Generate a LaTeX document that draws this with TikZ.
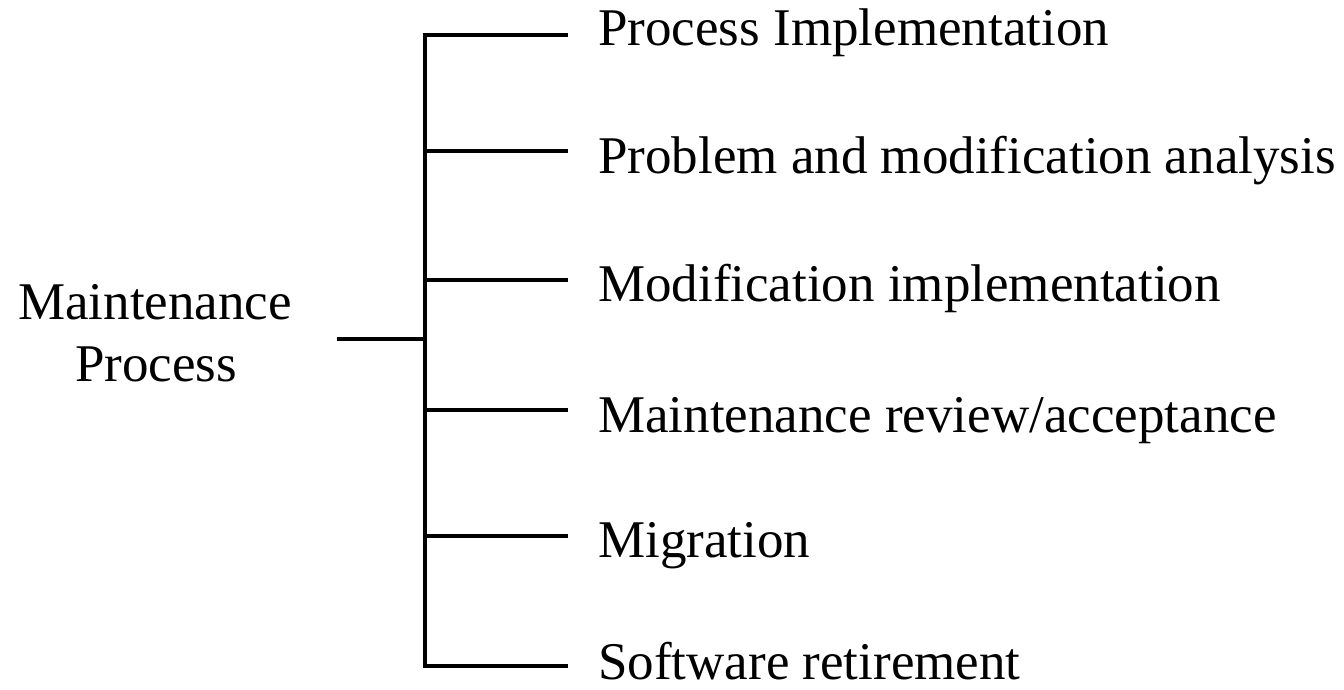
\documentclass[tikz,border=0pt]{standalone}
\usepackage{fontspec}
\setmainfont{Liberation Serif}
\begin{document}
\begin{tikzpicture}[x=1pt, y=-1pt,
  bar/.style={line width=3.8pt, line cap=butt, line join=miter},
  lbl/.style={anchor=base west, inner sep=0pt, font=\fontsize{53}{61}\selectfont},
  rootlbl/.style={anchor=base, inner sep=0pt, font=\fontsize{53}{61}\selectfont}]
\useasboundingbox (0,0) rectangle (1344,690);

% root label
\node[rootlbl] (root1) at (155,319) {Maintenance};
\node[rootlbl] (root2) at (156,381) {Process};

% stub into the spine
\coordinate (rs) at (337,339);
\coordinate (rj) at (425,339);
\draw[bar] (rs) -- (rj);

% branch points on the spine and their free ends
\coordinate (b1) at (425,35);  \coordinate (e1) at (568,35);
\coordinate (b2) at (425,151); \coordinate (e2) at (568,151);
\coordinate (b3) at (425,280); \coordinate (e3) at (568,280);
\coordinate (b4) at (425,410); \coordinate (e4) at (568,410);
\coordinate (b5) at (425,536); \coordinate (e5) at (568,536);
\coordinate (b6) at (425,666); \coordinate (e6) at (568,666);

% spine with the first and last branches
\draw[bar] (e1) -- (b1) -- (b6) -- (e6);
\draw[bar] (b2) -- (e2);
\draw[bar] (b3) -- (e3);
\draw[bar] (b4) -- (e4);
\draw[bar] (b5) -- (e5);

% sub-process labels
\node[lbl] (p1) at (598,46)  {Process Implementation};
\node[lbl] (p2) at (598,173) {Problem and modification analysis};
\node[lbl] (p3) at (598,301) {Modification implementation};
\node[lbl] (p4) at (598,432) {Maintenance review/acceptance};
\node[lbl] (p5) at (598,557) {Migration};
\node[lbl, text depth=0pt] (p6) at (598,679) {Software retirement};
\end{tikzpicture}
\end{document}
